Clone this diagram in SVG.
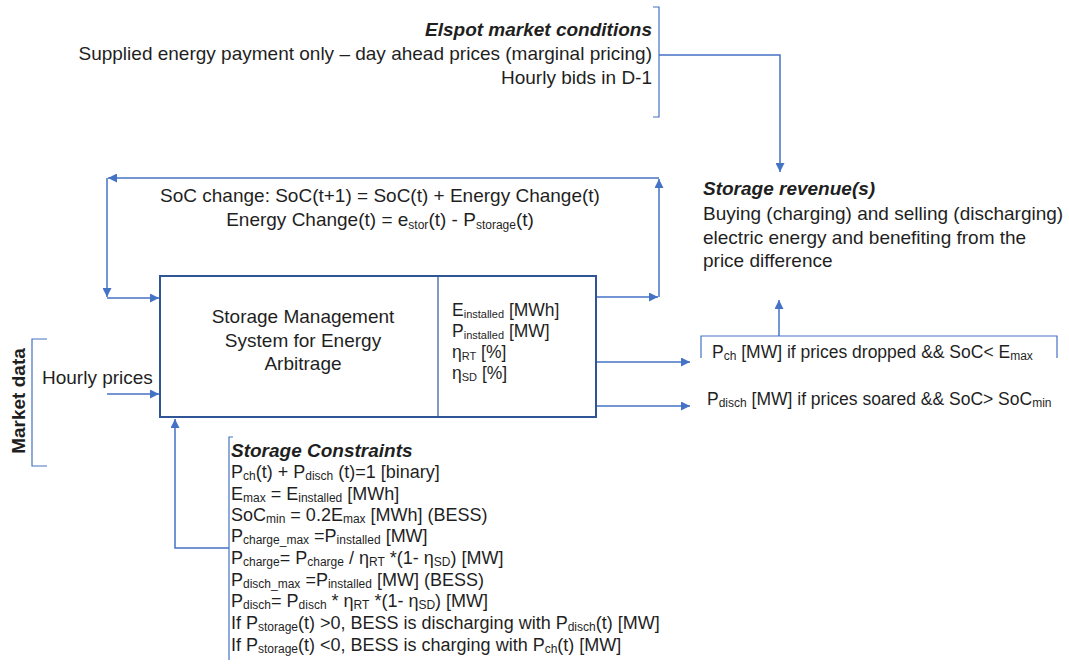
<svg xmlns="http://www.w3.org/2000/svg" width="1069" height="666" viewBox="0 0 1069 666">
<style>
text{font-family:"Liberation Sans",Arial,sans-serif;fill:#1f1f1f;font-size:19px}
.t18{font-size:18px}
.t17{font-size:17.5px}
.bi{font-weight:bold;font-style:italic}
.b{font-weight:bold}
.s{font-size:11px}
.s12{font-size:12px}
.ln{fill:none;stroke:#4472C4;stroke-width:1.5}
.br{fill:none;stroke:#4472C4;stroke-width:1.2}
.box{fill:#fff;stroke:#2F5597;stroke-width:2}
</style>
<defs>
<marker id="ah" viewBox="0 0 10 10" refX="10" refY="5" markerWidth="11" markerHeight="9" markerUnits="userSpaceOnUse" orient="auto">
<path d="M0 0 L10 5 L0 10 Z" fill="#4472C4"/>
</marker>
</defs>
<rect width="1069" height="666" fill="#fff"/>

<g id="connectors">
<path class="ln" d="M659 55 H780 V172" marker-end="url(#ah)"/>
<path class="ln" d="M596 297 H658" marker-end="url(#ah)"/>
<path class="ln" d="M659 297 V179" marker-end="url(#ah)"/>
<path class="ln" d="M659 178 H108" marker-end="url(#ah)"/>
<path class="ln" d="M107 178 V297" marker-end="url(#ah)"/>
<path class="ln" d="M107 298 H159" marker-end="url(#ah)"/>
<path class="ln" d="M107 394 H159" marker-end="url(#ah)"/>
<path class="ln" d="M229 548 H175 V419" marker-end="url(#ah)"/>
<path class="ln" d="M597 362 H690" marker-end="url(#ah)"/>
<path class="ln" d="M597 406 H690" marker-end="url(#ah)"/>
<path class="ln" d="M779 336 V300" marker-end="url(#ah)"/>
</g>

<g id="elspot">
<path class="br" d="M653 7 H659 V117 H653"/>
<text x="652" y="36" text-anchor="end" class="bi">Elspot market conditions</text>
<text x="652" y="60" text-anchor="end" font-size="19.2">Supplied energy payment only – day ahead prices (marginal pricing)</text>
<text x="652" y="84" text-anchor="end">Hourly bids in D-1</text>
</g>

<g id="soc-change">
<text x="380" y="202" text-anchor="middle">SoC change: SoC(t+1) = SoC(t) + Energy Change(t)</text>
<text x="380" y="226" text-anchor="middle">Energy Change(t) = e<tspan class="s12" dy="3">stor</tspan><tspan dy="-3">(t) - P</tspan><tspan class="s12" dy="3">storage</tspan><tspan dy="-3">(t)</tspan></text>
</g>

<g id="revenue">
<text x="703" y="195" class="bi">Storage revenue(s)</text>
<text x="703" y="220">Buying (charging) and selling (discharging)</text>
<text x="703" y="244">electric energy and benefiting from the</text>
<text x="703" y="267">price difference</text>
</g>

<g id="sms">
<rect class="box" x="160" y="276" width="436" height="141"/>
<line x1="438" y1="276" x2="438" y2="417" stroke="#2F5597" stroke-width="1.2"/>
<text x="303" y="323" text-anchor="middle">Storage Management</text>
<text x="303" y="347" text-anchor="middle">System for Energy</text>
<text x="303" y="370" text-anchor="middle">Arbitrage</text>
<text x="452" y="316" class="t17">E<tspan class="s" dy="2">installed</tspan><tspan dy="-2"> [MWh]</tspan></text>
<text x="452" y="337" class="t17">P<tspan class="s" dy="2">installed</tspan><tspan dy="-2"> [MW]</tspan></text>
<text x="452" y="358" class="t17">η<tspan class="s" dy="2">RT</tspan><tspan dy="-2"> [%]</tspan></text>
<text x="452" y="379" class="t17">η<tspan class="s" dy="2">SD</tspan><tspan dy="-2"> [%]</tspan></text>
</g>

<g id="market-data">
<path class="br" d="M47 339 H32 V466 H47"/>
<text x="0" y="0" class="b" text-anchor="middle" transform="translate(25 401) rotate(-90)">Market data</text>
<text x="42" y="384">Hourly prices</text>
</g>

<g id="charge-out">
<path class="br" d="M701 358 V336 H1057 V358"/>
<text x="712" y="358" class="t17">P<tspan class="s12" dy="2">ch</tspan><tspan dy="-2"> [MW] if prices dropped &amp;&amp; SoC&lt; E</tspan><tspan class="s12" dy="2">max</tspan></text>
</g>

<g id="disch-out">
<text x="707" y="405" class="t17" font-size="18">P<tspan class="s12" dy="2">disch</tspan><tspan dy="-2"> [MW] if prices soared &amp;&amp; SoC&gt; SoC</tspan><tspan class="s12" dy="2">min</tspan></text>
</g>

<g id="constraints">
<path class="br" d="M233 437 H229 V660"/>
<text x="231" y="457" class="bi">Storage Constraints</text>
<text x="231" y="478" class="t18">P<tspan class="s12" dy="2">ch</tspan><tspan dy="-2">(t) + P</tspan><tspan class="s12" dy="2">disch</tspan><tspan dy="-2"> (t)=1 [binary]</tspan></text>
<text x="231" y="500" class="t18">E<tspan class="s12" dy="2">max</tspan><tspan dy="-2"> = E</tspan><tspan class="s12" dy="2">installed</tspan><tspan dy="-2"> [MWh]</tspan></text>
<text x="231" y="521" class="t18">SoC<tspan class="s12" dy="2">min</tspan><tspan dy="-2"> = 0.2E</tspan><tspan class="s12" dy="2">max</tspan><tspan dy="-2"> [MWh] (BESS)</tspan></text>
<text x="231" y="542" class="t18">P<tspan class="s12" dy="2">charge_max</tspan><tspan dy="-2"> =P</tspan><tspan class="s12" dy="2">installed</tspan><tspan dy="-2"> [MW]</tspan></text>
<text x="231" y="564" class="t18">P<tspan class="s12" dy="2">charge</tspan><tspan dy="-2">= P</tspan><tspan class="s12" dy="2">charge</tspan><tspan dy="-2"> / η</tspan><tspan class="s12" dy="2">RT</tspan><tspan dy="-2"> *(1- η</tspan><tspan class="s12" dy="2">SD</tspan><tspan dy="-2">) [MW]</tspan></text>
<text x="231" y="586" class="t18">P<tspan class="s12" dy="2">disch_max</tspan><tspan dy="-2"> =P</tspan><tspan class="s12" dy="2">installed</tspan><tspan dy="-2"> [MW] (BESS)</tspan></text>
<text x="231" y="607" class="t18">P<tspan class="s12" dy="2">disch</tspan><tspan dy="-2">= P</tspan><tspan class="s12" dy="2">disch</tspan><tspan dy="-2"> * η</tspan><tspan class="s12" dy="2">RT</tspan><tspan dy="-2"> *(1- η</tspan><tspan class="s12" dy="2">SD</tspan><tspan dy="-2">) [MW]</tspan></text>
<text x="231" y="629" class="t18">If P<tspan class="s12" dy="2">storage</tspan><tspan dy="-2">(t) &gt;0, BESS is discharging with P</tspan><tspan class="s12" dy="2">disch</tspan><tspan dy="-2">(t) [MW]</tspan></text>
<text x="231" y="651" class="t18">If P<tspan class="s12" dy="2">storage</tspan><tspan dy="-2">(t) &lt;0, BESS is charging with P</tspan><tspan class="s12" dy="2">ch</tspan><tspan dy="-2">(t) [MW]</tspan></text>
</g>
</svg>
